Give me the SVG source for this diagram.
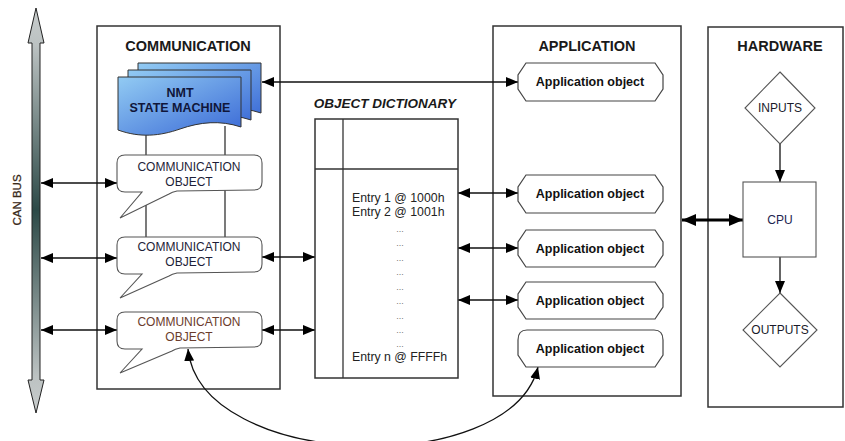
<svg xmlns="http://www.w3.org/2000/svg" width="845" height="441" viewBox="0 0 845 441">
  <defs>
    <style>
      .box { fill: #fff; stroke: #333; stroke-width: 1.5; }
      .title { font-family: "Liberation Sans", Arial, sans-serif; font-weight: bold; font-size: 14.5px; fill: #1a1a1a; text-anchor: middle; }
      .callout { fill: #fff; stroke: #555; stroke-width: 1.1; }
      .ctext { font-family: "Liberation Sans", Arial, sans-serif; font-size: 12px; fill: #1e1e38; text-anchor: middle; }
      .app { fill: #fff; stroke: #444; stroke-width: 1.2; }
      .atext { font-family: "Liberation Sans", Arial, sans-serif; font-weight: bold; font-size: 12.5px; fill: #111; text-anchor: middle; }
      .entry { font-family: "Liberation Sans", Arial, sans-serif; font-size: 12.3px; fill: #222; }
      .dots { font-family: "Liberation Sans", Arial, sans-serif; font-size: 9px; fill: #777; text-anchor: middle; }
      .htext { font-family: "Liberation Sans", Arial, sans-serif; font-size: 12px; fill: #1a1a2a; text-anchor: middle; }
      .link { fill: none; stroke: #111; stroke-width: 1.3; marker-start: url(#arr); marker-end: url(#arr); }
      .down { fill: none; stroke: #111; stroke-width: 1.3; marker-end: url(#arr); }
      .plain { fill: none; stroke: #222; stroke-width: 1.2; }
      .nmt { fill: url(#nmtGrad); stroke: #333; stroke-width: 1; }
    </style>
    <marker id="arr" viewBox="0 0 12 10" refX="12" refY="5" markerWidth="12" markerHeight="10" markerUnits="userSpaceOnUse" orient="auto-start-reverse">
      <path d="M0,0 L12,5 L0,10 Z" fill="#000"/>
    </marker>
    <marker id="arrBig" viewBox="0 0 14 12" refX="14" refY="6" markerWidth="14" markerHeight="12" markerUnits="userSpaceOnUse" orient="auto-start-reverse">
      <path d="M0,0 L14,6 L0,12 Z" fill="#000"/>
    </marker>
    <linearGradient id="busGrad" gradientUnits="userSpaceOnUse" x1="0" y1="8" x2="0" y2="413">
      <stop offset="0" stop-color="#c8cccc"/>
      <stop offset="0.09" stop-color="#bcc2c2"/>
      <stop offset="0.5" stop-color="#2c4947"/>
      <stop offset="0.91" stop-color="#bcc2c2"/>
      <stop offset="1" stop-color="#c8cccc"/>
    </linearGradient>
    <linearGradient id="nmtGrad" x1="0" y1="0" x2="1" y2="1">
      <stop offset="0" stop-color="#92cbf3"/>
      <stop offset="1" stop-color="#3a69d6"/>
    </linearGradient>
  </defs>

  <!-- CAN bus -->
  <g id="can-bus">
    <path d="M36,8 L44,43 L40,43 L40,380 L44,380 L36,413 L28,380 L32,380 L32,43 L28,43 Z" fill="url(#busGrad)" stroke="#222" stroke-width="1"/>
    <text transform="translate(21,200) rotate(-90)" font-family="Liberation Sans, Arial, sans-serif" font-size="11.5" fill="#3a2a1a" text-anchor="middle" stroke="#3a2a1a" stroke-width="0.3">CAN BUS</text>
  </g>

  <!-- Container boxes -->
  <g id="communication">
    <rect class="box" x="97" y="26" width="183" height="363"/>
    <text class="title" x="188" y="51">COMMUNICATION</text>
  </g>
  <g id="application">
    <rect class="box" x="493" y="26" width="188" height="370"/>
    <text class="title" x="587" y="51">APPLICATION</text>
  </g>
  <g id="hardware">
    <rect class="box" x="708" y="27" width="135" height="380"/>
    <text class="title" x="780" y="51">HARDWARE</text>
  </g>

  <!-- Connectors -->
  <g id="connectors">
    <!-- state machine ties -->
    <line class="plain" x1="146" y1="128" x2="146" y2="238"/>
    <line class="plain" x1="225" y1="126" x2="225" y2="238"/>
    <!-- bus links -->
    <line class="link" x1="41" y1="183" x2="117" y2="183"/>
    <line class="link" x1="41" y1="258" x2="117" y2="258"/>
    <line class="link" x1="41" y1="330" x2="117" y2="330"/>
    <!-- NMT to application object -->
    <line class="link" x1="262" y1="82" x2="518" y2="82"/>
    <!-- communication objects to dictionary -->
    <line class="link" x1="262" y1="257" x2="315" y2="257"/>
    <line class="link" x1="262" y1="330" x2="315" y2="330"/>
    <!-- application objects to dictionary -->
    <line class="link" x1="458" y1="193" x2="518" y2="193"/>
    <line class="link" x1="458" y1="248" x2="518" y2="248"/>
    <line class="link" x1="458" y1="300" x2="518" y2="300"/>
    <!-- application to CPU -->
    <line x1="682" y1="220" x2="743" y2="220" stroke="#000" stroke-width="3" marker-start="url(#arrBig)" marker-end="url(#arrBig)"/>
    <!-- hardware flow -->
    <line class="down" x1="780" y1="144" x2="780" y2="182"/>
    <line class="down" x1="780" y1="257" x2="780" y2="293"/>
    <!-- direct communication object to application object -->
    <path class="link" d="M188,349 C200,470 510,480 538,367"/>
  </g>

  <!-- NMT state machine (stacked documents) -->
  <g id="nmt-state-machine">
    <path class="nmt" d="M138,63 H261 V113 C240,106 220,108 200,115 C180,122 160,124 138,116 Z"/>
    <path class="nmt" d="M128,70 H251 V120 C230,113 210,115 190,122 C170,129 150,131 128,123 Z"/>
    <path class="nmt" d="M118,77 H241 V127 C220,120 200,122 180,129 C160,136 140,138 118,130 Z"/>
    <text x="180" y="97" font-family="Liberation Sans, Arial, sans-serif" font-weight="bold" font-size="12.5" fill="#10163a" text-anchor="middle">NMT</text>
    <text x="180" y="112" font-family="Liberation Sans, Arial, sans-serif" font-weight="bold" font-size="12.5" fill="#10163a" text-anchor="middle">STATE MACHINE</text>
  </g>

  <!-- Communication objects -->
  <g id="comm-object-1">
    <path class="callout" d="M125,155 H254 Q262,155 262,163 V182 Q262,190 254,190 L177,191 Q172,192 169,194 L120,218 L142,192 H125 Q117,192 117,184 V163 Q117,155 125,155 Z"/>
    <text class="ctext" x="189" y="171">COMMUNICATION</text>
    <text class="ctext" x="189" y="186">OBJECT</text>
  </g>
  <g id="comm-object-2">
    <path class="callout" d="M125,237 H254 Q262,237 262,245 V264 Q262,272 254,272 L177,273 Q172,274 169,276 L120,298 L142,274 H125 Q117,274 117,266 V245 Q117,237 125,237 Z"/>
    <text class="ctext" x="189" y="251">COMMUNICATION</text>
    <text class="ctext" x="189" y="266">OBJECT</text>
  </g>
  <g id="comm-object-3">
    <path class="callout" d="M125,312 H254 Q262,312 262,320 V339 Q262,347 254,347 L180,348 Q175,349 172,351 L120,373 L142,349 H125 Q117,349 117,341 V320 Q117,312 125,312 Z"/>
    <text class="ctext" x="189" y="326" style="fill:#6b3c2c">COMMUNICATION</text>
    <text class="ctext" x="189" y="341" style="fill:#6b3c2c">OBJECT</text>
  </g>

  <!-- Object dictionary -->
  <g id="object-dictionary">
    <text x="385" y="108" font-family="Liberation Sans, Arial, sans-serif" font-weight="bold" font-style="italic" font-size="13.5" fill="#1a1a1a" text-anchor="middle">OBJECT DICTIONARY</text>
    <rect class="box" x="315" y="119" width="143" height="259" stroke-width="1.3"/>
    <line x1="343" y1="119" x2="343" y2="378" stroke="#333" stroke-width="1.3"/>
    <line x1="315" y1="169" x2="458" y2="169" stroke="#333" stroke-width="1.3"/>
    <text class="entry" x="352" y="202">Entry 1 @ 1000h</text>
    <text class="entry" x="352" y="216">Entry 2 @ 1001h</text>
    <text class="dots" x="400" y="232">...</text>
    <text class="dots" x="400" y="246">...</text>
    <text class="dots" x="400" y="261">...</text>
    <text class="dots" x="400" y="275">...</text>
    <text class="dots" x="400" y="290">...</text>
    <text class="dots" x="400" y="304">...</text>
    <text class="dots" x="400" y="319">...</text>
    <text class="dots" x="400" y="333">...</text>
    <text class="dots" x="400" y="347">...</text>
    <text class="entry" x="352" y="361">Entry n @ FFFFh</text>
  </g>

  <!-- Application objects -->
  <g id="app-object-1">
    <path class="app" d="M526,63 H655 L663,75 V89 L655,101 H526 L518,89 V75 Z"/>
    <text class="atext" x="590" y="86">Application object</text>
  </g>
  <g id="app-object-2">
    <path class="app" d="M526,175 H655 L663,187 V201 L655,213 H526 L518,201 V187 Z"/>
    <text class="atext" x="590" y="198">Application object</text>
  </g>
  <g id="app-object-3">
    <path class="app" d="M526,230 H655 L663,242 V255 L655,267 H526 L518,255 V242 Z"/>
    <text class="atext" x="590" y="253">Application object</text>
  </g>
  <g id="app-object-4">
    <path class="app" d="M526,282 H655 L663,294 V307 L655,319 H526 L518,307 V294 Z"/>
    <text class="atext" x="590" y="305">Application object</text>
  </g>
  <g id="app-object-5">
    <path class="app" d="M527,330 H654 Q663,330 663,340 V355 L655,367 H526 L518,355 V340 Q518,330 527,330 Z"/>
    <text class="atext" x="590" y="353">Application object</text>
  </g>

  <!-- Hardware -->
  <g id="inputs">
    <path d="M780,72 L815,108 L780,144 L745,108 Z" fill="#fff" stroke="#555" stroke-width="1.1"/>
    <text class="htext" x="780" y="112">INPUTS</text>
  </g>
  <g id="cpu">
    <rect x="743" y="182" width="73" height="75" fill="#fff" stroke="#555" stroke-width="1.1"/>
    <text class="htext" x="780" y="224" style="fill:#1c2450">CPU</text>
  </g>
  <g id="outputs">
    <path d="M780,293 L817,330 L780,367 L743,330 Z" fill="#fff" stroke="#555" stroke-width="1.1"/>
    <text class="htext" x="780" y="334">OUTPUTS</text>
  </g>
</svg>
